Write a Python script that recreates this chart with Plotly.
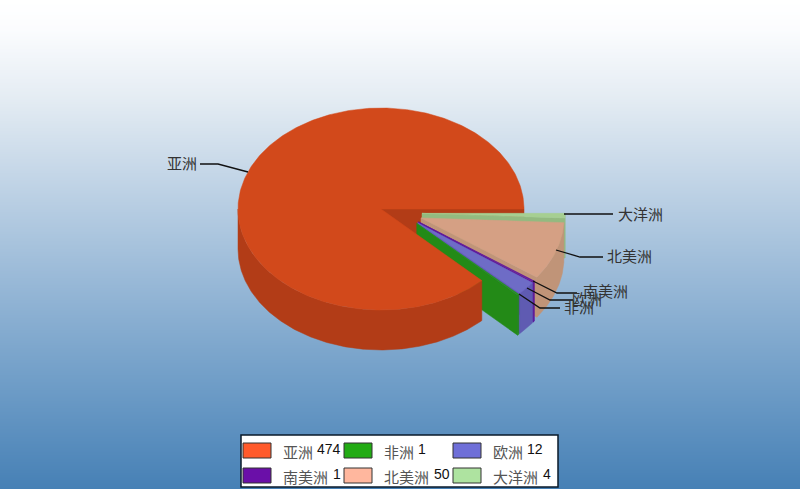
import numpy as np
import plotly.graph_objects as go

# ---- data ----
categories = ["亚洲", "非洲", "欧洲", "南美洲", "北美洲", "大洋洲"]
values = [474, 1, 12, 1, 50, 4]
legend_colors = ["#FF5A2B", "#22AB14", "#6F6FD8", "#6A0FA8", "#FFB79E", "#AEE3A0"]
top_colors = ["#D2491B", "#239A16", "#6E6CC6", "#5E14A0", "#D5A084", "#A6CF92"]
side_colors = ["#B23C17", "#238A17", "#5F5BB2", "#5A129A", "#C09478", "#93BA80"]

# ---- geometry in page pixels ----
W, H = 800, 489
CX, CY, RX, RY, DEPTH = 381, 209, 143, 101, 40

total = sum(values)
spans = [v / total * 360 for v in values]


def pt(cx, cy, deg, dz=0):
    r = np.radians(deg)
    return cx + RX * np.cos(r), cy - RY * np.sin(r) + dz


def arc(cx, cy, a1, a2, dz=0, n=None):
    n = n or max(4, int(abs(a2 - a1)) * 2)
    t = np.radians(np.linspace(a1, a2, n))
    return list(cx + RX * np.cos(t)), list(cy - RY * np.sin(t) + dz)


def poly(xs, ys, color):
    return go.Scatter(
        x=xs, y=ys, mode="lines", fill="toself", fillcolor=color,
        line=dict(color=color, width=0.5), hoverinfo="skip", showlegend=False,
    )


def wedge_traces(cx, cy, a1, a2, top, side):
    """a1 < a2 in degrees, counter-clockwise, y pointing up."""
    out = []
    # the cut face turned towards the viewer
    ox, oy = pt(cx, cy, a1)
    out.append(poly([cx, ox, ox, cx, cx], [cy, oy, oy + DEPTH, cy + DEPTH, cy], side))
    # outer wall, only its front half
    lo, hi = max(a1, -180), min(a2, 0)
    if hi > lo:
        ux, uy = arc(cx, cy, lo, hi)
        dx, dy = arc(cx, cy, hi, lo, DEPTH)
        out.append(poly(ux + dx + ux[:1], uy + dy + uy[:1], side))
    # top face
    ux, uy = arc(cx, cy, a1, a2)
    out.append(poly([cx] + ux + [cx], [cy] + uy + [cy], top))
    return out


traces = []

# background gradient
grad_y = np.arange(0, H + 1, 3)
stops = [[0, "#FFFFFF"], [0.06, "#FBFCFE"], [0.2, "#E4ECF3"], [0.4, "#BBD0E4"],
         [0.6, "#93B5D5"], [0.8, "#6C9BC6"], [1, "#4680B5"]]
traces.append(go.Heatmap(
    x=[0, W], y=grad_y, z=[[g, g] for g in grad_y], colorscale=stops,
    showscale=False, zsmooth="best", hoverinfo="skip",
))

# back wall of the large slice, at its 0 degree cut
ox, oy = pt(CX, CY, 0)
traces.append(poly([CX, ox, ox, CX, CX], [CY, oy, oy + DEPTH, CY + DEPTH, CY], side_colors[0]))

# angles: first slice runs counter-clockwise from 0, the rest follow
edges = np.concatenate([[0], np.cumsum(spans)])

# exploded slices, back to front
for i in range(len(values) - 1, 0, -1):
    a1, a2 = edges[i] - 360, edges[i + 1] - 360
    mid = np.radians((a1 + a2) / 2)
    cx = CX + 23 + 18 * np.cos(mid)
    cy = CY + 4 + 15 * abs(np.sin(mid))
    traces.extend(wedge_traces(cx, cy, a1, a2, top_colors[i], side_colors[i]))

# large slice over them: outer wall then top
a_end = edges[1] - 360
ux, uy = arc(CX, CY, -180, a_end)
dx, dy = arc(CX, CY, a_end, -180, DEPTH)
traces.append(poly(ux + dx + ux[:1], uy + dy + uy[:1], side_colors[0]))
ux, uy = arc(CX, CY, 0, edges[1], n=400)
traces.append(poly([CX] + ux + [CX], [CY] + uy + [CY], top_colors[0]))

fig = go.Figure(traces)

# ---- callouts ----
CJK = "Noto Sans CJK SC"
callouts = {
    "亚洲": ([248, 218, 200], [172, 164, 164], 182, 162.5),
    "大洋洲": ([564, 613], [214, 214], 640, 213.5),
    "北美洲": ([556, 580, 603], [250, 257, 257], 629, 255.5),
    "南美洲": ([533, 557, 577], [281, 293, 293], 605, 290.5),
    "欧洲": ([527, 550, 573], [288, 300, 300], 587, 298.5),
    "非洲": ([519, 540, 560], [294, 308, 308], 579, 306.5),
}
for name, (lx, ly, tx, ty) in callouts.items():
    fig.add_trace(go.Scatter(x=lx, y=ly, mode="lines", line=dict(color="#111111", width=1.3),
                             hoverinfo="skip", showlegend=False))
    fig.add_annotation(x=tx, y=ty, text=name, showarrow=False,
                       font=dict(family=CJK, size=15, color="#333333"))

# ---- legend box ----
fig.add_shape(type="rect", x0=241, x1=558, y0=435, y1=487,
              fillcolor="#FFFFFF", line=dict(color="#0A1A2A", width=1.5))
col_x = [243, 344, 453]
row_y = [443, 468]
for i, (name, val, col) in enumerate(zip(categories, values, legend_colors)):
    sx, sy = col_x[i % 3], row_y[i // 3]
    fig.add_shape(type="rect", x0=sx, x1=sx + 28, y0=sy, y1=sy + 15,
                  fillcolor=col, line=dict(color="#333333", width=1))
    fig.add_annotation(x=sx + 38, y=sy + 8, text=name, xanchor="left", showarrow=False,
                       font=dict(family=CJK, size=15, color="#555555"))
    fig.add_annotation(x=sx + 38 + 15.6 * len(name) + 3, y=sy + 6, text=str(val), xanchor="left",
                       showarrow=False, font=dict(family="Liberation Sans", size=14, color="#111111"))

fig.update_layout(
    width=W, height=H, margin=dict(l=0, r=0, t=0, b=0),
    paper_bgcolor="#FFFFFF", plot_bgcolor="rgba(0,0,0,0)", showlegend=False,
    xaxis=dict(range=[0, W], visible=False, fixedrange=True),
    yaxis=dict(range=[H, 0], visible=False, fixedrange=True),
)
fig.write_html(
    "out.html",
    config={"displayModeBar": False},
    post_script="document.body.style.margin='0';document.body.style.overflow='hidden';",
)
